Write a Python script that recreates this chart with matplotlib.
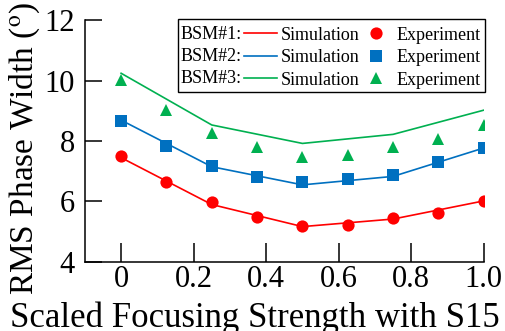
import numpy as np
import matplotlib
matplotlib.use("Agg")
import matplotlib.pyplot as plt
from matplotlib.patches import Rectangle

# ----------------------------
# data
# ----------------------------
x_sim = [0, 0.25, 0.5, 0.75, 1.0]
x_exp = [0, 0.125, 0.25, 0.375, 0.5, 0.625, 0.75, 0.875, 1.0]

sim_bsm1 = [7.45, 5.90, 5.17, 5.42, 6.02]
sim_bsm2 = [8.69, 7.15, 6.55, 6.83, 7.77]
sim_bsm3 = [10.24, 8.53, 7.92, 8.22, 9.02]

exp_bsm1 = [7.52, 6.63, 5.97, 5.50, 5.20, 5.23, 5.47, 5.63, 6.02]
exp_bsm2 = [8.67, 7.82, 7.17, 6.80, 6.63, 6.74, 6.89, 7.32, 7.78]
exp_bsm3 = [10.03, 9.03, 8.26, 7.81, 7.47, 7.53, 7.81, 8.08, 8.54]

names = ["BSM#1:", "BSM#2:", "BSM#3:"]
colors = ["#FF0000", "#0070C0", "#00B050"]
markers = ["o", "s", "^"]

plt.rcParams["font.family"] = ["Liberation Serif", "DejaVu Serif"]
plt.rcParams["mathtext.fontset"] = "stix"

fig = plt.figure(figsize=(5.05, 3.31), dpi=100)
ax = fig.add_axes([0.168, 0.2085, 0.79, 0.731])

sims = [sim_bsm1, sim_bsm2, sim_bsm3]
exps = [exp_bsm1, exp_bsm2, exp_bsm3]
line_handles = []
mark_handles = []
for sim, exp, c, m in zip(sims, exps, colors, markers):
    l, = ax.plot(x_sim, sim, color=c, linewidth=1.2)
    p, = ax.plot(x_exp, exp, linestyle="none", marker=m, color=c,
                 markersize=8.8, markeredgewidth=0)
    line_handles.append(l)
    mark_handles.append(p)

ax.set_xlim(-0.1, 1.0)
ax.set_ylim(4, 12)
ax.set_xticks([0, 0.2, 0.4, 0.6, 0.8, 1.0])
ax.set_xticklabels(["0", "0.2", "0.4", "0.6", "0.8", "1.0"])
ax.set_yticks([4, 6, 8, 10, 12])
for s in ["top", "right"]:
    ax.spines[s].set_visible(False)
for s in ["left", "bottom"]:
    ax.spines[s].set_linewidth(1.1)
ax.tick_params(axis="x", direction="in", length=14, width=1.1, labelsize=22, pad=2)
ax.tick_params(axis="y", direction="in", length=12, width=1.1, labelsize=22, pad=7)

ax.set_xlabel("Scaled Focusing Strength with S15", fontsize=25)
ax.xaxis.set_label_coords(0.426, -0.165)
ax.set_ylabel(r"RMS Phase Width ($^{\mathrm{o}}$)", fontsize=24)
ax.yaxis.set_label_coords(-0.108, 0.47)

# ----------------------------
# legend (boxed, with BSM names on the left)
# ----------------------------
handles = line_handles + mark_handles
labels = ["Simulation"] * 3 + ["Experiment"] * 3
leg = ax.legend(handles, labels, ncol=2, frameon=False, fontsize=13,
                loc="upper left", bbox_to_anchor=(0.3985, 0.972),
                borderaxespad=0, borderpad=0,
                handlelength=1.85, handletextpad=0.2, columnspacing=0.0,
                labelspacing=0.3)
row_y = [0.942, 0.851, 0.760]
for name, yy in zip(names, row_y):
    ax.text(0.24, yy, name, transform=ax.transAxes, fontsize=13,
            va="center", ha="left")
ax.add_patch(Rectangle((0.233, 0.702), 0.7695, 0.302, transform=ax.transAxes,
                       fill=False, edgecolor="black", linewidth=1.0,
                       clip_on=False))

fig.savefig("out.png", dpi=100)
